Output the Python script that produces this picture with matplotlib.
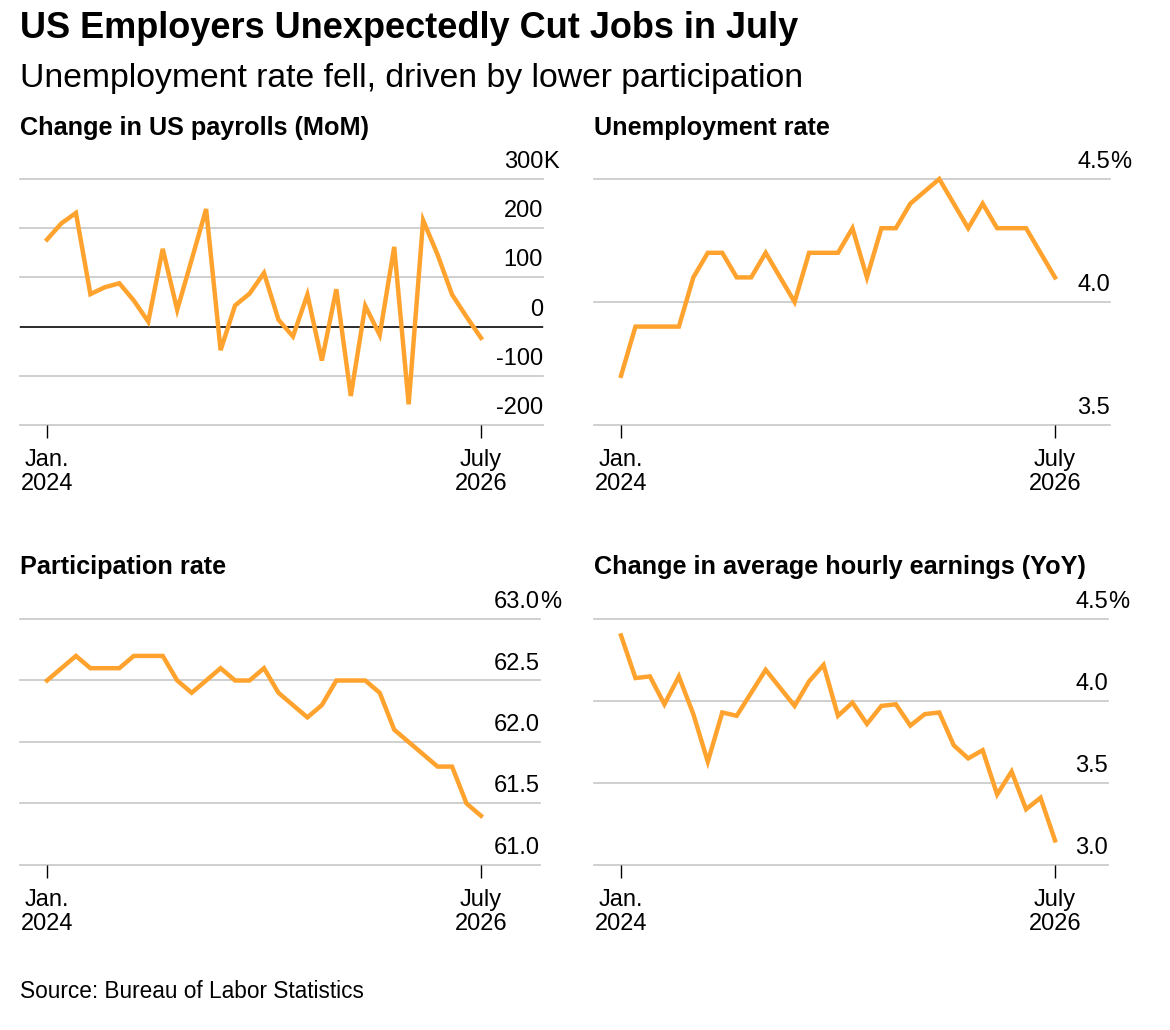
import matplotlib.pyplot as plt

plt.rcParams['font.family'] = ['Liberation Sans', 'DejaVu Sans']

# monthly values, Jan 2024 .. July 2026 (31 months)
months = list(range(31))
payrolls = [177, 210, 231, 66, 80, 88, 53, 10, 158, 34, 136, 239, -48, 43, 67, 109,
            14, -20, 65, -69, 76, -141, 42, -17, 162, -158, 216, 146, 65, 20, -23]
unemployment = [3.70, 3.90, 3.90, 3.90, 3.90, 4.10, 4.20, 4.20, 4.10, 4.10, 4.20,
                4.10, 4.00, 4.20, 4.20, 4.20, 4.30, 4.10, 4.30, 4.30, 4.40, 4.45,
                4.50, 4.40, 4.30, 4.40, 4.30, 4.30, 4.30, 4.20, 4.10]
participation = [62.5, 62.6, 62.7, 62.6, 62.6, 62.6, 62.7, 62.7, 62.7, 62.5, 62.4,
                 62.5, 62.6, 62.5, 62.5, 62.6, 62.4, 62.3, 62.2, 62.3, 62.5, 62.5,
                 62.5, 62.4, 62.1, 62.0, 61.9, 61.8, 61.8, 61.5, 61.4]
earnings = [4.40, 4.14, 4.15, 3.98, 4.15, 3.92, 3.63, 3.93, 3.91, 4.05, 4.19, 4.08,
            3.97, 4.12, 4.22, 3.91, 3.99, 3.86, 3.97, 3.98, 3.85, 3.92, 3.93, 3.73,
            3.65, 3.70, 3.43, 3.57, 3.34, 3.41, 3.15]

xtick_pos = [0, 30]
xtick_labels = ['Jan.\n2024', 'July\n2026']

panels = [
    # title, data, y ticks, tick labels, suffix
    ('Change in US payrolls (MoM)', payrolls, [-200, -100, 0, 100, 200, 300],
     ['-200', '-100', '0', '100', '200', '300'], 'K'),
    ('Unemployment rate', unemployment, [3.5, 4.0, 4.5], ['3.5', '4.0', '4.5'], '%'),
    ('Participation rate', participation, [61.0, 61.5, 62.0, 62.5, 63.0],
     ['61.0', '61.5', '62.0', '62.5', '63.0'], '%'),
    ('Change in average hourly earnings (YoY)', earnings, [3.0, 3.5, 4.0, 4.5],
     ['3.0', '3.5', '4.0', '4.5'], '%'),
]

W, H = 1170, 1030
fig = plt.figure(figsize=(W / 100, H / 100), dpi=100)

# pixel boxes: left, right, top, bottom
boxes = [(20, 543, 179, 425), (594, 1110, 179, 425),
         (20, 540, 619, 865), (594, 1108, 619, 865)]
title_y = [128, 128, 567, 567]

orange = '#FFA32E'
grid_c = '#cccccc'
px_month = 434 / 30

for (title, data, yt, ylab, suffix), (l, r, t, b), ty in zip(panels, boxes, title_y):
    ax = fig.add_axes([l / W, 1 - b / H, (r - l) / W, (b - t) / H])
    ax.set_xlim(-27 / px_month, 30 + (r - l - 27 - 434) / px_month)
    ax.set_ylim(yt[0], yt[-1])
    for v in yt:
        ax.axhline(v, color=grid_c, lw=1.3, zorder=1, clip_on=False)
    if 0 in yt and yt[0] < 0:
        ax.axhline(0, color='black', lw=1.1, zorder=2)
    ax.plot(months, data, color=orange, lw=3.2, zorder=3, clip_on=False,
            solid_joinstyle='miter')
    for v, s in zip(yt, ylab):
        ax.annotate(s, xy=(1, v), xycoords=('axes fraction', 'data'),
                    xytext=(0, 6), textcoords='offset pixels',
                    ha='right', va='bottom', fontsize=17)
    ax.annotate(suffix, xy=(1, yt[-1]), xycoords=('axes fraction', 'data'),
                xytext=(0, 6), textcoords='offset pixels',
                ha='left', va='bottom', fontsize=17)
    for sp in ax.spines.values():
        sp.set_visible(False)
    ax.set_yticks([])
    ax.set_xticks(xtick_pos)
    ax.set_xticklabels(xtick_labels, fontsize=17, linespacing=1.15)
    ax.tick_params(axis='x', length=9, width=1, color='black', pad=8)
    fig.text(l / W, 1 - ty / H, title, fontsize=18.2, fontweight='bold',
             va='center', ha='left')

fig.text(20 / W, 1 - 29 / H, 'US Employers Unexpectedly Cut Jobs in July',
         fontsize=26, fontweight='bold', va='center', ha='left')
fig.text(20 / W, 1 - 78 / H, 'Unemployment rate fell, driven by lower participation',
         fontsize=24.3, va='center', ha='left')
fig.text(20 / W, 1 - 992 / H, 'Source: Bureau of Labor Statistics',
         fontsize=16.3, va='center', ha='left')

fig.savefig('out.png', dpi=100, facecolor='white')
